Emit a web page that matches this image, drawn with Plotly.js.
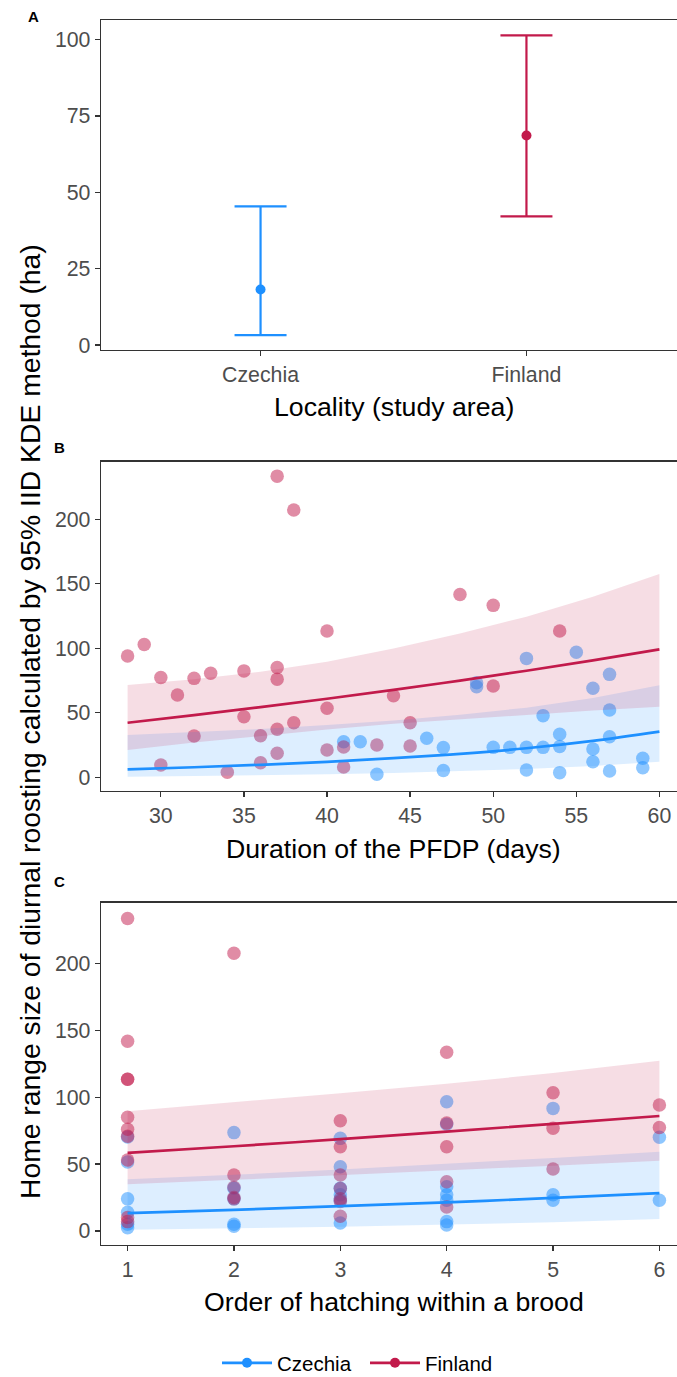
<!DOCTYPE html>
<html>
<head>
<meta charset="utf-8">
<script src="https://cdn.plot.ly/plotly-3.0.1.min.js"></script>
<style>
html,body{margin:0;padding:0;overflow:hidden;background:#fff;}
#chart{width:700px;height:1377px;}
</style>
</head>
<body>
<div id="chart"></div>
<script>
// ---------- Panel A: locality means with 95% CI ----------
const localities = ['Czechia', 'Finland'];
const meanHR = [18.2, 68.6];
const lowerHR = [3.3, 42.1];
const upperHR = [45.4, 101.4];

// ---------- Panel B: home range vs duration of PFDP ----------
const czDuration = [41,42,43,46,47,47,49,49,50,51,52,52,52,53,53,54,54,54,55,56,56,56,57,57,57,57,59,59];
const czHomeB = [27.6,27.6,2.3,30.2,23,5.2,73.3,70.2,23.2,23.2,92.2,23.2,5.7,47.8,23.2,33.3,23.9,3.6,96.9,69,21.9,12.1,79.8,52.2,31.5,4.9,14.7,7.4];
const fiDuration = [28,29,30,30,31,32,32,33,34,35,35,36,36,37,37,37,37,37,38,38,40,40,40,41,41,43,44,45,45,48,50,50,54];
const fiHomeB = [94,103,77.3,9.5,63.8,76.7,32,80.6,3.9,82.5,47,32.2,11.3,233.5,85.2,76.1,37.2,18.6,207.2,42.3,113.4,53.5,21.2,23.5,8,25,63.2,42.3,24.3,141.8,133.3,70.8,113.4];

// fitted curves and 95% bands (read at these durations)
const fitDuration = [28,32,36,40,44,48,52,56,60];
const fiFitB = [42.3,48.2,54.4,60.9,67.8,75.0,82.6,90.7,99.2];
const fiUpB  = [71.5,76.0,81.8,89.6,99.8,111.5,124.5,140.0,157.6];
const fiLoB  = [21.1,27.0,32.0,37.0,41.5,45.0,48.5,51.8,54.7];
const czFitB = [6.2,7.8,9.7,12.0,14.8,18.2,22.5,28.2,35.4];
const czUpB  = [32.8,35.0,37.5,40.5,44.0,48.5,54.0,61.5,71.3];
const czLoB  = [0.5,1.0,1.5,2.3,3.4,4.8,6.4,8.8,12.1];

// ---------- Panel C: home range vs order of hatching ----------
const czOrder = [1,1,1,1,1,1, 2,2,2,2,2, 3,3,3,3,3,3, 4,4,4,4,4,4,4, 5,5,5, 6,6];
const czHomeC = [70.2,51.5,24,14,5,2.5, 73.5,32,24,5,3.5, 69.2,48,32,27,23,6, 96.6,79.8,33,27,23,7,4.5, 91.6,27,23, 70,23];
const fiOrder = [1,1,1,1,1,1,1,1,1,1, 2,2,2,2,2, 3,3,3,3,3,3,3, 4,4,4,4,4, 5,5,5, 6,6];
const fiHomeC = [233.5,141.8,113.4,113.4,85,76,70.8,53,10,7, 207.5,41.8,32.6,25,24, 82.4,62.9,41.8,31.8,24,22,11, 133.5,80.6,62.9,36.8,18, 103.3,76.7,46.3, 94.1,77.4];

const fitOrder = [1,2,3,4,5,6];
const fiFitC = [58.4,63.3,68.6,74.3,80.0,85.9];
const fiUpC  = [89.4,96.0,103.0,110.0,118.0,127.2];
const fiLoC  = [35.0,38.2,41.6,45.2,48.8,52.5];
const czFitC = [13.4,15.8,18.5,21.4,24.7,28.3];
const czUpC  = [38.6,42.0,46.0,50.2,54.6,59.2];
const czLoC  = [1.0,2.0,3.2,4.6,6.5,8.9];

// ---------- styling ----------
const CZ = '#1E90FF';
const FI = '#C21A4B';
const CZ_BAND = 'rgba(30,144,255,0.15)';
const FI_BAND = 'rgba(194,26,75,0.15)';
const FONT = 'Liberation Sans, Arial, Helvetica, sans-serif';
const H = 1377, L = 101, PW = 585;

function band(xs, up, lo, color, xa, ya) {
  return {x: xs.concat(xs.slice().reverse()), y: up.concat(lo.slice().reverse()),
    type: 'scatter', mode: 'lines', fill: 'toself', fillcolor: color,
    line: {width: 0}, hoverinfo: 'skip', showlegend: false, xaxis: xa, yaxis: ya};
}
function pts(xs, ys, color, xa, ya) {
  return {x: xs, y: ys, type: 'scatter', mode: 'markers', showlegend: false,
    marker: {color: color, size: 13.5, opacity: 0.5, line: {width: 0}}, xaxis: xa, yaxis: ya};
}
function fit(xs, ys, color, xa, ya) {
  return {x: xs, y: ys, type: 'scatter', mode: 'lines', showlegend: false,
    line: {color: color, width: 2.7, shape: 'spline'}, xaxis: xa, yaxis: ya};
}

const traces = [
  // Panel A
  {x: [localities[0]], y: [meanHR[0]], type: 'scatter', mode: 'markers', showlegend: false,
   marker: {color: CZ, size: 10},
   error_y: {type: 'data', symmetric: false, array: [upperHR[0]-meanHR[0]], arrayminus: [meanHR[0]-lowerHR[0]],
     color: CZ, thickness: 2.2, width: 26}, xaxis: 'x', yaxis: 'y'},
  {x: [localities[1]], y: [meanHR[1]], type: 'scatter', mode: 'markers', showlegend: false,
   marker: {color: FI, size: 10},
   error_y: {type: 'data', symmetric: false, array: [upperHR[1]-meanHR[1]], arrayminus: [meanHR[1]-lowerHR[1]],
     color: FI, thickness: 2.2, width: 26}, xaxis: 'x', yaxis: 'y'},
  // Panel B
  pts(czDuration, czHomeB, CZ, 'x2', 'y2'),
  pts(fiDuration, fiHomeB, FI, 'x2', 'y2'),
  band(fitDuration, czUpB, czLoB, CZ_BAND, 'x2', 'y2'),
  band(fitDuration, fiUpB, fiLoB, FI_BAND, 'x2', 'y2'),
  fit(fitDuration, czFitB, CZ, 'x2', 'y2'),
  fit(fitDuration, fiFitB, FI, 'x2', 'y2'),
  // Panel C
  pts(czOrder, czHomeC, CZ, 'x3', 'y3'),
  pts(fiOrder, fiHomeC, FI, 'x3', 'y3'),
  band(fitOrder, czUpC, czLoC, CZ_BAND, 'x3', 'y3'),
  band(fitOrder, fiUpC, fiLoC, FI_BAND, 'x3', 'y3'),
  fit(fitOrder, czFitC, CZ, 'x3', 'y3'),
  fit(fitOrder, fiFitC, FI, 'x3', 'y3'),
  // legend entries
  {x: [null], y: [null], type: 'scatter', mode: 'lines+markers', name: localities[0],
   line: {color: CZ, width: 2.7}, marker: {color: CZ, size: 10}, xaxis: 'x', yaxis: 'y'},
  {x: [null], y: [null], type: 'scatter', mode: 'lines+markers', name: localities[1],
   line: {color: FI, width: 2.7}, marker: {color: FI, size: 10}, xaxis: 'x', yaxis: 'y'}
];

function dom(topPx, botPx) { return [(H - botPx) / H, (H - topPx) / H]; }
const axBase = {showline: true, mirror: true, linecolor: '#333333', linewidth: 1.3,
  ticks: 'outside', ticklen: 5, tickwidth: 1.3, tickcolor: '#333333',
  showgrid: false, zeroline: false, fixedrange: true,
  tickfont: {family: FONT, size: 21.3, color: '#4D4D4D'}};
function ax(extra) { return Object.assign({}, axBase, extra); }

function px2x(p) { return (p - L) / PW; }
function px2y(p) { return (H - p) / H; }
const titleFont = {family: FONT, size: 26.7, color: '#000000'};
const tagFont = {family: FONT, size: 15, color: '#000000'};

const layout = {
  width: 700, height: H,
  margin: {l: L, r: 700 - L - PW, t: 0, b: 0, autoexpand: false},
  paper_bgcolor: '#ffffff', plot_bgcolor: '#ffffff',
  font: {family: FONT},
  xaxis: ax({type: 'category', range: [-0.6, 1.6], anchor: 'y', categoryarray: localities}),
  yaxis: ax({domain: dom(20, 350), range: [-1.6, 106.4], tickvals: [0,25,50,75,100], anchor: 'x'}),
  xaxis2: ax({range: [26.4, 61.6], tickvals: [30,35,40,45,50,55,60], anchor: 'y2'}),
  yaxis2: ax({domain: dom(461.7, 790.7), range: [-10.4, 244.7], tickvals: [0,50,100,150,200], anchor: 'x2'}),
  xaxis3: ax({range: [0.75, 6.25], tickvals: [1,2,3,4,5,6], anchor: 'y3'}),
  yaxis3: ax({domain: dom(902.7, 1244.9), range: [-10.4, 245.3], tickvals: [0,50,100,150,200], anchor: 'x3'}),
  showlegend: true,
  legend: {orientation: 'h', x: px2x(217), xanchor: 'left', y: px2y(1363), yanchor: 'middle',
    font: {family: FONT, size: 20.5, color: '#000000'}, bgcolor: 'rgba(0,0,0,0)', itemwidth: 50,
    entrywidth: 83, entrywidthmode: 'pixels'},
  annotations: [
    {text: 'Locality (study area)', xref: 'paper', yref: 'paper', x: 0.5, y: px2y(407), xanchor: 'center', yanchor: 'middle', showarrow: false, font: titleFont},
    {text: 'Duration of the PFDP (days)', xref: 'paper', yref: 'paper', x: 0.5, y: px2y(849), xanchor: 'center', yanchor: 'middle', showarrow: false, font: titleFont},
    {text: 'Order of hatching within a brood', xref: 'paper', yref: 'paper', x: 0.5, y: px2y(1302), xanchor: 'center', yanchor: 'middle', showarrow: false, font: titleFont},
    {text: 'Home range size of diurnal roosting calculated by 95% IID KDE method (ha)', xref: 'paper', yref: 'paper',
     x: px2x(30), y: px2y(722), xanchor: 'center', yanchor: 'middle', textangle: -90, showarrow: false,
     font: {family: FONT, size: 28.3, color: '#000000'}},
    {text: '<b>A</b>', xref: 'paper', yref: 'paper', x: px2x(33), y: px2y(16), xanchor: 'center', yanchor: 'middle', showarrow: false, font: tagFont},
    {text: '<b>B</b>', xref: 'paper', yref: 'paper', x: px2x(59), y: px2y(447), xanchor: 'center', yanchor: 'middle', showarrow: false, font: tagFont},
    {text: '<b>C</b>', xref: 'paper', yref: 'paper', x: px2x(59), y: px2y(881), xanchor: 'center', yanchor: 'middle', showarrow: false, font: tagFont}
  ]
};

Plotly.newPlot('chart', traces, layout, {displayModeBar: false, staticPlot: true});
</script>
</body>
</html>
